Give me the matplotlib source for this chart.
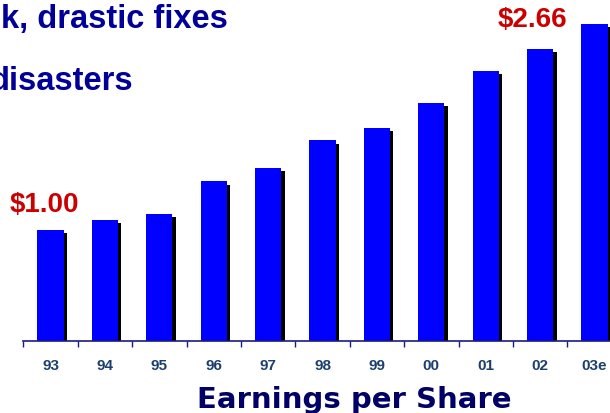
import matplotlib
matplotlib.use("Agg")
import matplotlib.pyplot as plt
import numpy as np

years = ['93', '94', '95', '96', '97', '98', '99', '00', '01', '02', '03e']
eps = [1.00, 1.08, 1.13, 1.39, 1.50, 1.72, 1.82, 2.02, 2.28, 2.46, 2.66]
first_label = '$1.00'
last_label = '$2.66'

plt.rcParams['font.family'] = ['Liberation Sans', 'DejaVu Sans']

fig = plt.figure(figsize=(6.1, 4.14), dpi=100)
ax = fig.add_axes([0.0382, 0.1746, 0.981, 0.8254])

x = np.arange(len(years))
# black drop shadow behind each bar
ax.bar(x + 0.064, np.array(eps) - 0.016, width=0.48, bottom=-0.01, color='black', zorder=1)
ax.bar(x, eps, width=0.48, color='#0000ff', zorder=2)

ax.set_xlim(-0.5, len(years) - 0.5)
ax.set_ylim(0.1056, 0.1056 + 341.7 / 124.1)

for s in ['left', 'right', 'top']:
    ax.spines[s].set_visible(False)
ax.spines['bottom'].set_color('#1a1a80')
ax.spines['bottom'].set_linewidth(1.2)
ax.set_yticks([])

ax.set_xticks(np.arange(len(years) + 1) - 0.5, minor=False)
ax.set_xticklabels([])
ax.tick_params(axis='x', which='major', direction='out', length=4, width=1, color='#1a1a80')
ax.set_xticks(x, minor=True)
ax.set_xticklabels(years, minor=True, fontsize=11, fontweight='bold', color='#1c406e')
ax.tick_params(axis='x', which='minor', length=0, pad=12.5)

ax.annotate(first_label, xy=(0, eps[0]), xytext=(-6, 26), textcoords='offset pixels',
            ha='center', va='center', fontsize=20, fontweight='bold', color='#cc0000')
ax.annotate(last_label, xy=(len(years) - 1, eps[-1]), xytext=(-62, 5), textcoords='offset pixels',
            ha='center', va='center', fontsize=20, fontweight='bold', color='#cc0000',
            annotation_clip=False)

fig.text(354 / 610, 6 / 414, 'Earnings per Share', ha='center', va='baseline',
         fontsize=21, fontweight='bold', color='#000066', family='DejaVu Sans')

fig.text(228 / 610, 1 - 28 / 414, 'k, drastic fixes', ha='right', va='baseline',
         fontsize=23.5, fontweight='bold', color='#000099')
fig.text(133 / 610, 1 - 90 / 414, 'disasters', ha='right', va='baseline',
         fontsize=23.5, fontweight='bold', color='#000099')

fig.savefig('out.png', dpi=100)
